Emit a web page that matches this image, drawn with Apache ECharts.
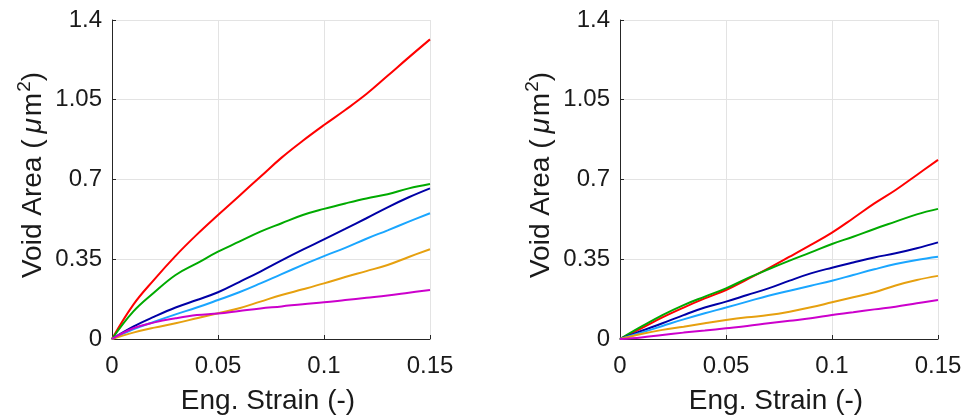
<!DOCTYPE html>
<html>
<head>
<meta charset="utf-8">
<script src="https://cdn.jsdelivr.net/npm/echarts@6/dist/echarts.min.js"></script>
<style>
html,body{margin:0;padding:0;background:#fff;}
#c{width:965px;height:417px;}
</style>
</head>
<body>
<div id="c"></div>
<script>
var strain = [0,0.01,0.02,0.03,0.04,0.05,0.06,0.07,0.08,0.09,0.10,0.11,0.12,0.13,0.14,0.15];
var yTicks = [0,0.35,0.7,1.05,1.4];
var xTicks = [0,0.05,0.1,0.15];

// Left panel
var leftRed     = [0,0.150,0.262,0.365,0.458,0.544,0.628,0.712,0.796,0.870,0.939,1.005,1.075,1.155,1.236,1.315];
var leftGreen   = [0,0.120,0.205,0.281,0.332,0.383,0.427,0.471,0.508,0.544,0.571,0.595,0.617,0.635,0.661,0.680];
var leftNavy    = [0,0.054,0.098,0.138,0.171,0.205,0.250,0.296,0.345,0.392,0.437,0.483,0.530,0.578,0.622,0.661];
var leftSky     = [0,0.042,0.076,0.108,0.138,0.171,0.205,0.244,0.285,0.325,0.364,0.400,0.440,0.477,0.515,0.552];
var leftOrange  = [0,0.028,0.050,0.069,0.091,0.113,0.135,0.164,0.193,0.218,0.244,0.272,0.298,0.325,0.360,0.394];
var leftMagenta = [0,0.047,0.073,0.091,0.105,0.112,0.123,0.134,0.143,0.153,0.161,0.171,0.181,0.191,0.203,0.215];

// Right panel
var rightRed     = [0,0.047,0.095,0.138,0.178,0.215,0.262,0.310,0.361,0.413,0.467,0.530,0.595,0.654,0.720,0.786];
var rightGreen   = [0,0.054,0.105,0.149,0.186,0.222,0.266,0.306,0.344,0.380,0.417,0.449,0.483,0.515,0.547,0.571];
var rightNavy    = [0,0.035,0.069,0.105,0.138,0.164,0.193,0.222,0.256,0.288,0.313,0.336,0.358,0.376,0.398,0.424];
var rightSky     = [0,0.028,0.057,0.086,0.113,0.138,0.164,0.190,0.212,0.234,0.256,0.281,0.306,0.329,0.347,0.361];
var rightOrange  = [0,0.022,0.040,0.054,0.069,0.083,0.095,0.105,0.120,0.139,0.161,0.183,0.205,0.235,0.259,0.277];
var rightMagenta = [0,0.007,0.018,0.028,0.037,0.047,0.057,0.069,0.080,0.091,0.105,0.117,0.130,0.142,0.157,0.171];

var xTitle = 'Eng. Strain (-)';
var yTitle = 'Void Area ({i|μ}m{sup|2})';

var colors = {red:'#ff0000', green:'#00aa00', navy:'#0000a6', sky:'#1aa6ff', orange:'#e6a00f', magenta:'#cc00cc'};
var FONT = 'Liberation Sans, Arial, Helvetica, sans-serif';

function pairs(ys){ return strain.map(function(x,i){ return [x, ys[i]]; }); }
function fmt(v){ return String(Math.round(v*100)/100); }

function xAxis(idx){
  return {
    type:'value', gridIndex:idx, min:0, max:0.15, interval:0.05,
    axisLine:{show:true, onZero:false, lineStyle:{color:'#262626', width:1}},
    axisTick:{show:true, inside:true, length:4, lineStyle:{color:'#262626'}},
    splitLine:{show:true, lineStyle:{color:'#e3e3e3', width:1}},
    axisLabel:{color:'#1a1a1a', fontSize:24, fontFamily:FONT, margin:15, formatter:fmt}
  };
}
function yAxis(idx){
  return {
    type:'value', gridIndex:idx, min:0, max:1.4, interval:0.35,
    axisLine:{show:true, onZero:false, lineStyle:{color:'#262626', width:1}},
    axisTick:{show:true, inside:true, length:4, lineStyle:{color:'#262626'}},
    splitLine:{show:true, lineStyle:{color:'#e3e3e3', width:1}},
    axisLabel:{color:'#1a1a1a', fontSize:24, fontFamily:FONT, margin:10, formatter:fmt}
  };
}
function line(idx, data, color){
  return {type:'line', xAxisIndex:idx, yAxisIndex:idx, data:pairs(data), showSymbol:false,
    smooth:0.4, lineStyle:{color:color, width:2}, itemStyle:{color:color}, z:3};
}

var chart = echarts.init(document.getElementById('c'), null, {renderer:'canvas'});
var series = [];
[[leftRed,'red'],[leftGreen,'green'],[leftNavy,'navy'],[leftSky,'sky'],[leftOrange,'orange'],[leftMagenta,'magenta']].forEach(function(s){
  series.push(line(0, s[0], colors[s[1]]));
});
[[rightRed,'red'],[rightGreen,'green'],[rightNavy,'navy'],[rightSky,'sky'],[rightOrange,'orange'],[rightMagenta,'magenta']].forEach(function(s){
  series.push(line(1, s[0], colors[s[1]]));
});

function yLabel(x){
  return {type:'text', x:x, y:175, rotation:Math.PI/2,
    style:{text:yTitle, fill:'#1a1a1a', font:'28px '+FONT, textAlign:'center', textVerticalAlign:'middle',
      rich:{
        i:{fontStyle:'italic', fontSize:28, fontFamily:FONT, fill:'#1a1a1a', padding:[0,2,0,6]},
        sup:{fontSize:19, fontFamily:FONT, fill:'#1a1a1a', padding:[0,0,16,1]}
      }}};
}
function xLabel(x){
  return {type:'text', x:x, y:401,
    style:{text:xTitle, fill:'#1a1a1a', font:'28px '+FONT, textAlign:'center', textVerticalAlign:'middle'}};
}

chart.setOption({
  backgroundColor:'#ffffff',
  animation:false,
  grid:[
    {left:112, top:20, width:318, height:319, containLabel:false},
    {left:620, top:20, width:318, height:319, containLabel:false}
  ],
  xAxis:[xAxis(0), xAxis(1)],
  yAxis:[yAxis(0), yAxis(1)],
  series:series,
  graphic:[xLabel(268), xLabel(776), yLabel(33), yLabel(541)]
});
</script>
</body>
</html>
